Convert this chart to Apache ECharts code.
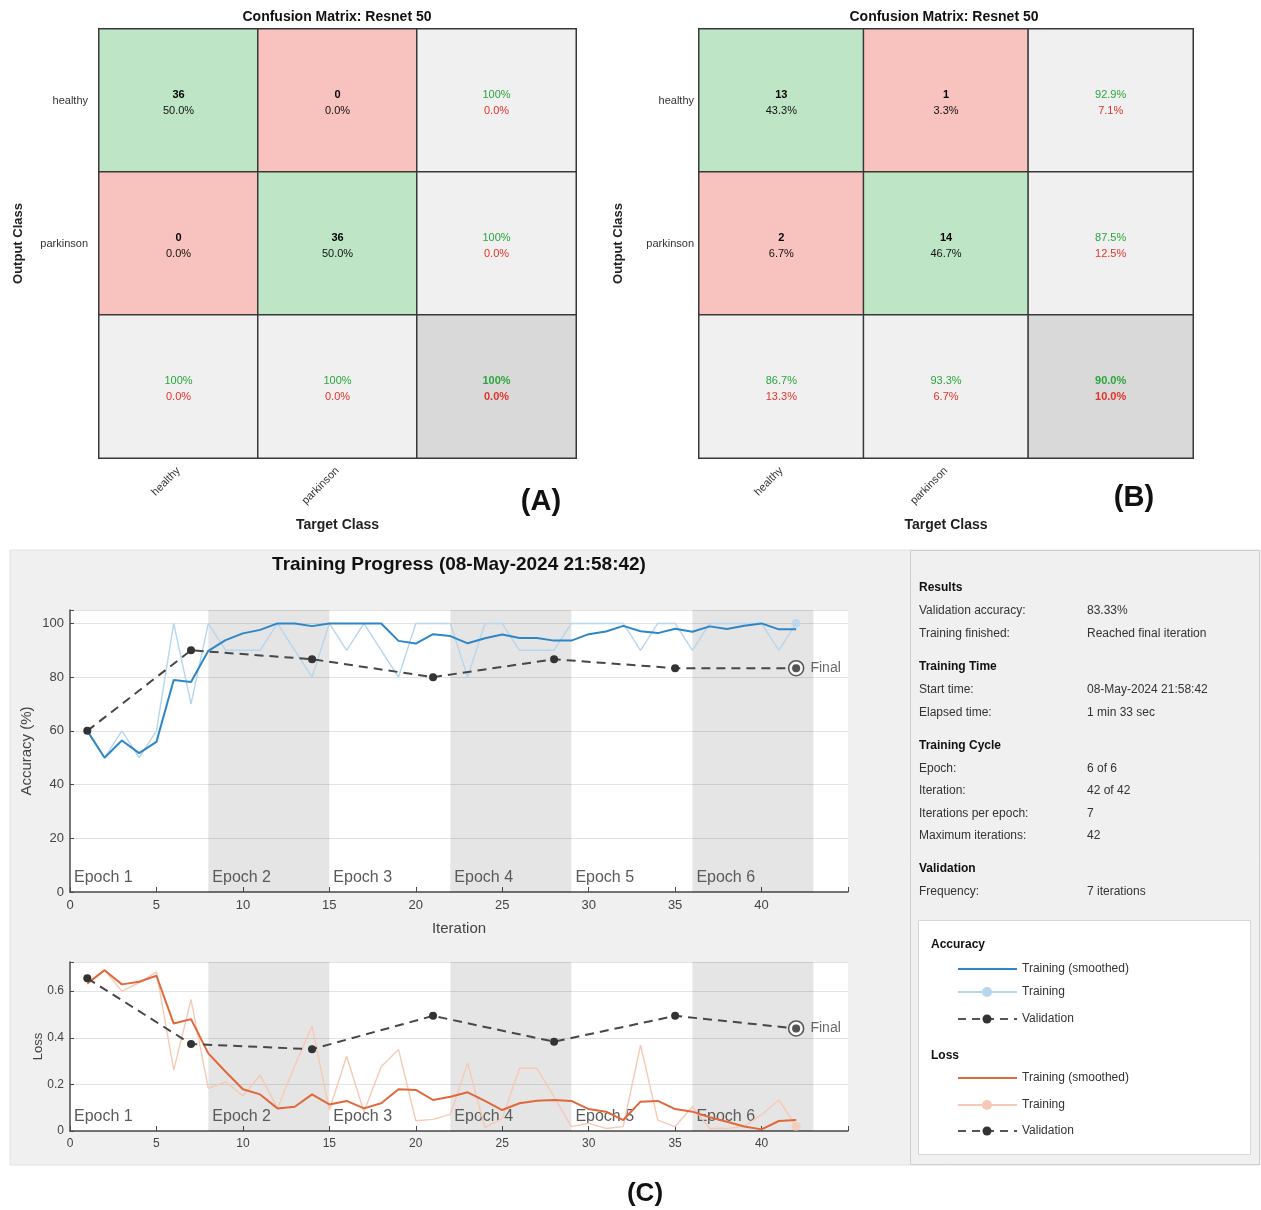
<!DOCTYPE html>
<html><head><meta charset="utf-8">
<script src="https://cdn.jsdelivr.net/npm/echarts@6/dist/echarts.min.js"></script>
<style>html,body{margin:0;padding:0;background:#fff}#c{width:1261px;height:1210px}</style>
</head><body><div id="c"></div>
<script>
// ---------- DATA ----------
const classes = ['healthy', 'parkinson'];
const cmA = [[36, 0], [0, 36]];   // rows: output class, cols: target class
const cmB = [[13, 1], [2, 14]];

const iterations = [1,2,3,4,5,6,7,8,9,10,11,12,13,14,15,16,17,18,19,20,21,22,23,24,25,26,27,28,29,30,31,32,33,34,35,36,37,38,39,40,41,42];
const accTraining = [60,50,60,50,60,100,70,100,90,90,90,100,90,80,100,90,100,90,80,100,100,100,80,100,100,90,90,90,100,100,100,100,90,100,100,90,100,100,100,100,90,100];
const accSmoothed = [60,50,56.4,51.7,55.9,78.9,78.2,89.8,93.8,96.3,97.6,100,100,99,100,100,100,100,93.5,92.5,96,95.3,92.6,94.5,95.9,94.6,94.6,93.6,93.6,96,97,99.1,97.1,96.4,98,96.9,98.9,97.9,99.1,100,97.8,97.8];
const valIterations = [1,7,14,21,28,35,42];
const accValidation = [60,90,86.67,80,86.67,83.33,83.33];

const lossTraining = [0.63,0.69,0.60,0.636,0.683,0.261,0.564,0.183,0.211,0.15,0.24,0.097,0.28,0.45,0.09,0.321,0.083,0.276,0.35,0.044,0.05,0.071,0.29,0.014,0.054,0.269,0.269,0.147,0.019,0.033,0.011,0.019,0.369,0.047,0.019,0.104,0.011,0.011,0.02,0.07,0.133,0.02];
const lossSmoothed = [0.633,0.69,0.629,0.64,0.666,0.461,0.48,0.333,0.254,0.179,0.157,0.097,0.104,0.157,0.114,0.129,0.097,0.119,0.179,0.176,0.133,0.147,0.166,0.129,0.09,0.119,0.13,0.133,0.129,0.094,0.083,0.047,0.126,0.129,0.094,0.083,0.059,0.04,0.019,0.007,0.043,0.047];
const lossValidation = [0.655,0.373,0.351,0.494,0.383,0.494,0.44];

const epochNames = ['Epoch 1','Epoch 2','Epoch 3','Epoch 4','Epoch 5','Epoch 6'];
const epochBounds = [0, 8, 15, 22, 29, 36, 43];

const accTickLabels = [0,20,40,60,80,100];
const lossTickLabels = [0,0.2,0.4,0.6];
const iterTickLabels = [0,5,10,15,20,25,30,35,40];

const infoRows = [
  ['Results', ''],
  ['Validation accuracy:', '83.33%'],
  ['Training finished:', 'Reached final iteration'],
  ['Training Time', ''],
  ['Start time:', '08-May-2024 21:58:42'],
  ['Elapsed time:', '1 min 33 sec'],
  ['Training Cycle', ''],
  ['Epoch:', '6 of 6'],
  ['Iteration:', '42 of 42'],
  ['Iterations per epoch:', '7'],
  ['Maximum iterations:', '42'],
  ['Validation', ''],
  ['Frequency:', '7 iterations']
];

// ---------- STYLE ----------
const FONT = '"Liberation Sans", Arial, sans-serif';
const C_GREEN_CELL = '#bee6c6', C_RED_CELL = '#f8c2be', C_GRAY_CELL = '#f0f0f0', C_CORNER = '#d9d9d9';
const C_GT = '#2aa63c', C_RT = '#e5332b';
const C_ACC = '#2e86c8', C_ACC_L = '#b6d6ed', C_LOSS = '#e0683a', C_LOSS_L = '#f6c9b5', C_VAL = '#474747';

function pct(x) {
  const v = x * 100;
  if (Math.abs(v - 100) < 1e-9) return '100%';
  return v.toFixed(1) + '%';
}
function buildCM(cm) {
  const total = cm[0][0] + cm[0][1] + cm[1][0] + cm[1][1];
  const cells = [];
  for (let r = 0; r < 2; r++) for (let c = 0; c < 2; c++) {
    cells.push({ value: [c, r, cm[r][c]], itemStyle: { color: r === c ? C_GREEN_CELL : C_RED_CELL },
      txt: '{b|' + cm[r][c] + '}\n{p|' + pct(cm[r][c] / total) + '}' });
  }
  for (let r = 0; r < 2; r++) {
    const p = cm[r][r] / (cm[r][0] + cm[r][1]);
    cells.push({ value: [2, r, p], itemStyle: { color: C_GRAY_CELL }, txt: '{g|' + pct(p) + '}\n{r|' + pct(1 - p) + '}' });
  }
  for (let c = 0; c < 2; c++) {
    const p = cm[c][c] / (cm[0][c] + cm[1][c]);
    cells.push({ value: [c, 2, p], itemStyle: { color: C_GRAY_CELL }, txt: '{g|' + pct(p) + '}\n{r|' + pct(1 - p) + '}' });
  }
  const acc = (cm[0][0] + cm[1][1]) / total;
  cells.push({ value: [2, 2, acc], itemStyle: { color: C_CORNER }, txt: '{gb|' + pct(acc) + '}\n{rb|' + pct(1 - acc) + '}' });
  return cells;
}
const richCM = {
  b: { fontFamily: FONT, fontSize: 11, fontWeight: 'bold', color: '#000', lineHeight: 16 },
  p: { fontFamily: FONT, fontSize: 11, color: '#111', lineHeight: 16 },
  g: { fontFamily: FONT, fontSize: 11, color: C_GT, lineHeight: 16 },
  r: { fontFamily: FONT, fontSize: 11, color: C_RT, lineHeight: 16 },
  gb: { fontFamily: FONT, fontSize: 11, fontWeight: 'bold', color: C_GT, lineHeight: 16 },
  rb: { fontFamily: FONT, fontSize: 11, fontWeight: 'bold', color: C_RT, lineHeight: 16 }
};

function pairs(xs, ys) { return xs.map((x, i) => [x, ys[i]]); }

function epochAreas() {
  const areas = [];
  for (let e = 0; e < epochNames.length; e++) {
    areas.push([
      { xAxis: epochBounds[e], name: epochNames[e],
        itemStyle: { color: e % 2 === 1 ? 'rgba(0,0,0,0.10)' : 'rgba(0,0,0,0)' } },
      { xAxis: epochBounds[e + 1] }
    ]);
  }
  return areas;
}

function lineAxisX(gi, showName, fs) {
  return {
    type: 'value', gridIndex: gi, min: 0, max: 45, interval: 5,
    name: showName ? 'Iteration' : '', nameLocation: 'middle', nameGap: 29,
    nameTextStyle: { fontFamily: FONT, fontSize: 15, color: '#444' },
    axisLine: { show: true, onZero: false, lineStyle: { color: '#4a4a4a', width: 1.5 } },
    axisTick: { show: true, inside: true, length: 5, lineStyle: { color: '#4a4a4a' } },
    axisLabel: { fontFamily: FONT, fontSize: fs, color: '#444', margin: 7,
      formatter: v => iterTickLabels.indexOf(v) >= 0 ? String(v) : '' },
    splitLine: { show: false }
  };
}

function cmXAxis(gi) {
  return { type: 'category', gridIndex: gi, data: classes.concat(['']), name: 'Target Class', nameLocation: 'middle', nameGap: 60,
    nameTextStyle: { fontFamily: FONT, fontSize: 14, fontWeight: 'bold', color: '#222' },
    axisLine: { show: false }, axisTick: { show: false }, splitLine: { show: false },
    axisLabel: { rotate: 45, fontFamily: FONT, fontSize: 11, color: '#333', margin: 11 } };
}
function cmYAxis(gi, margin) {
  return { type: 'category', gridIndex: gi, data: classes.concat(['']), inverse: true, name: 'Output Class', nameLocation: 'middle', nameGap: 74,
    nameTextStyle: { fontFamily: FONT, fontSize: 13, fontWeight: 'bold', color: '#222' },
    axisLine: { show: false }, axisTick: { show: false }, splitLine: { show: false },
    axisLabel: { fontFamily: FONT, fontSize: 11, color: '#333', margin: margin } };
}

const option = {
  backgroundColor: '#fff',
  animation: false,
  grid: [
    { left: 70, top: 610, width: 778, height: 282, show: true, backgroundColor: '#fff', borderWidth: 0 },
    { left: 70, top: 962, width: 778, height: 169, show: true, backgroundColor: '#fff', borderWidth: 0 },
    { left: 99, top: 29, width: 477, height: 429 },
    { left: 699, top: 29, width: 494, height: 429 }
  ],
  xAxis: [ lineAxisX(0, true, 13), lineAxisX(1, false, 12), cmXAxis(2), cmXAxis(3) ],
  yAxis: [
    { type: 'value', gridIndex: 0, min: 0, max: 105, interval: 20,
      name: 'Accuracy (%)', nameLocation: 'middle', nameGap: 36, nameMoveOverlap: false,
      nameTextStyle: { fontFamily: FONT, fontSize: 15, color: '#444' },
      axisLine: { show: true, lineStyle: { color: '#4a4a4a', width: 1.5 } },
      axisTick: { show: true, inside: true, length: 4, lineStyle: { color: '#4a4a4a' } },
      axisLabel: { fontFamily: FONT, fontSize: 13, color: '#444', margin: 6,
        formatter: v => accTickLabels.indexOf(v) >= 0 ? String(v) : '' },
      splitLine: { show: true, lineStyle: { color: '#e3e3e3', width: 1 } } },
    { type: 'value', gridIndex: 1, min: 0, max: 0.725, interval: 0.2,
      name: 'Loss', nameLocation: 'middle', nameGap: 25, nameMoveOverlap: false,
      nameTextStyle: { fontFamily: FONT, fontSize: 13, color: '#444' },
      axisLine: { show: true, lineStyle: { color: '#4a4a4a', width: 1.5 } },
      axisTick: { show: true, inside: true, length: 4, lineStyle: { color: '#4a4a4a' } },
      axisLabel: { fontFamily: FONT, fontSize: 12, color: '#444', margin: 6,
        formatter: v => { const m = lossTickLabels.find(t => Math.abs(t - v) < 1e-6); return m === undefined ? '' : (m === 0 ? '0' : m.toFixed(1)); } },
      splitLine: { show: true, lineStyle: { color: '#e3e3e3', width: 1 } } },
    cmYAxis(2, 11),
    cmYAxis(3, 5)
  ],
  series: [
    // ---- accuracy ----
    { type: 'line', xAxisIndex: 0, yAxisIndex: 0, data: pairs(iterations, accTraining), showSymbol: false,
      lineStyle: { color: C_ACC_L, width: 1.4 }, itemStyle: { color: C_ACC_L }, z: 3,
      markArea: { silent: true, data: epochAreas(),
        label: { show: true, position: 'insideBottomLeft', distance: 4, fontFamily: FONT, fontSize: 16, color: '#5a5a5a', offset: [0, -2] } } },
    { type: 'line', xAxisIndex: 0, yAxisIndex: 0, data: pairs(iterations, accSmoothed), showSymbol: false,
      lineStyle: { color: C_ACC, width: 2 }, z: 4 },
    { type: 'line', xAxisIndex: 0, yAxisIndex: 0, data: pairs(valIterations, accValidation), symbol: 'circle', symbolSize: 8,
      lineStyle: { color: C_VAL, width: 2, type: [9, 6] }, itemStyle: { color: '#333' }, z: 5 },
    { type: 'scatter', xAxisIndex: 0, yAxisIndex: 0, data: [[iterations[41], accTraining[41]]], symbolSize: 9,
      itemStyle: { color: C_ACC_L }, z: 4 },
    { type: 'scatter', xAxisIndex: 0, yAxisIndex: 0, data: [[valIterations[6], accValidation[6]]], symbolSize: 15,
      itemStyle: { color: '#fff', borderColor: '#333', borderWidth: 1.6 }, z: 6,
      label: { show: true, position: 'right', distance: 6, formatter: 'Final', fontFamily: FONT, fontSize: 14, color: '#444' } },
    { type: 'scatter', xAxisIndex: 0, yAxisIndex: 0, data: [[valIterations[6], accValidation[6]]], symbolSize: 8,
      itemStyle: { color: '#333' }, z: 7 },
    // ---- loss ----
    { type: 'line', xAxisIndex: 1, yAxisIndex: 1, data: pairs(iterations, lossTraining), showSymbol: false,
      lineStyle: { color: C_LOSS_L, width: 1.4 }, z: 3,
      markArea: { silent: true, data: epochAreas(),
        label: { show: true, position: 'insideBottomLeft', distance: 4, fontFamily: FONT, fontSize: 16, color: '#5a5a5a', offset: [0, -2] } } },
    { type: 'line', xAxisIndex: 1, yAxisIndex: 1, data: pairs(iterations, lossSmoothed), showSymbol: false,
      lineStyle: { color: C_LOSS, width: 2 }, z: 4 },
    { type: 'line', xAxisIndex: 1, yAxisIndex: 1, data: pairs(valIterations, lossValidation), symbol: 'circle', symbolSize: 8,
      lineStyle: { color: C_VAL, width: 2, type: [9, 6] }, itemStyle: { color: '#333' }, z: 5 },
    { type: 'scatter', xAxisIndex: 1, yAxisIndex: 1, data: [[iterations[41], lossTraining[41]]], symbolSize: 9,
      itemStyle: { color: C_LOSS_L }, z: 4 },
    { type: 'scatter', xAxisIndex: 1, yAxisIndex: 1, data: [[valIterations[6], lossValidation[6]]], symbolSize: 15,
      itemStyle: { color: '#fff', borderColor: '#333', borderWidth: 1.6 }, z: 6,
      label: { show: true, position: 'right', distance: 6, formatter: 'Final', fontFamily: FONT, fontSize: 14, color: '#444' } },
    { type: 'scatter', xAxisIndex: 1, yAxisIndex: 1, data: [[valIterations[6], lossValidation[6]]], symbolSize: 8,
      itemStyle: { color: '#333' }, z: 7 },
    // ---- confusion matrices ----
    { type: 'heatmap', xAxisIndex: 2, yAxisIndex: 2, data: buildCM(cmA),
      itemStyle: { borderColor: '#383838', borderWidth: 1.5 }, emphasis: { disabled: true },
      label: { show: true, formatter: p => p.data.txt, rich: richCM, offset: [0, 2] } },
    { type: 'heatmap', xAxisIndex: 3, yAxisIndex: 3, data: buildCM(cmB),
      itemStyle: { borderColor: '#383838', borderWidth: 1.5 }, emphasis: { disabled: true },
      label: { show: true, formatter: p => p.data.txt, rich: richCM, offset: [0, 2] } }
  ],
  graphic: []
};

// ---------- free text / panels ----------
const G = option.graphic;
function txt(x, y, t, size, weight, color, align) {
  G.push({ type: 'text', x: x, y: y, z: 50, silent: true,
    style: { text: t, fontFamily: FONT, fontSize: size, fontWeight: weight || 'normal', fill: color || '#222',
      textAlign: align || 'left', align: align || 'left', textVerticalAlign: 'middle', verticalAlign: 'middle' } });
}
G.push({ type: 'rect', z: -100, silent: true, shape: { x: 10, y: 550, width: 1250, height: 615 }, style: { fill: '#f0f0f0', stroke: '#e2e2e2', lineWidth: 1 } });
G.push({ type: 'rect', z: -99, silent: true, shape: { x: 910.5, y: 550.5, width: 349, height: 614 }, style: { fill: '#f0f0f0', stroke: '#cfcfcf', lineWidth: 1 } });
G.push({ type: 'rect', z: -98, silent: true, shape: { x: 918.5, y: 920.5, width: 332, height: 234 }, style: { fill: '#ffffff', stroke: '#d6d6d6', lineWidth: 1 } });

txt(337, 17, 'Confusion Matrix: Resnet 50', 14, 'bold', '#111', 'center');
txt(944, 17, 'Confusion Matrix: Resnet 50', 14, 'bold', '#111', 'center');
txt(541, 502, '(A)', 29, 'bold', '#111', 'center');
txt(1134, 498, '(B)', 29, 'bold', '#111', 'center');
txt(645, 1194, '(C)', 26, 'bold', '#111', 'center');
txt(459, 565, 'Training Progress (08-May-2024 21:58:42)', 19, 'bold', '#111', 'center');

const infoY = [588, 611, 634, 667, 690, 713, 746, 769, 791, 814, 836, 869, 892];
infoRows.forEach((r, i) => {
  if (r[1] === '') txt(919, infoY[i], r[0], 12, 'bold', '#111');
  else { txt(919, infoY[i], r[0], 12, 'normal', '#333'); txt(1087, infoY[i], r[1], 12, 'normal', '#333'); }
});

// legend box
txt(931, 945, 'Accuracy', 12, 'bold', '#111');
txt(931, 1056, 'Loss', 12, 'bold', '#111');
function legLine(y, color, w, dashed, dot, dotColor, dotR, label) {
  G.push({ type: 'line', z: 40, silent: true, shape: { x1: 958, y1: y, x2: 1017, y2: y },
    style: { stroke: color, lineWidth: w, lineDash: dashed ? [8, 6] : null } });
  if (dot) G.push({ type: 'circle', z: 41, silent: true, shape: { cx: 987, cy: y, r: dotR }, style: { fill: dotColor } });
  txt(1022, y, label, 12, 'normal', '#333');
}
legLine(969, C_ACC, 2, false, false, null, 0, 'Training (smoothed)');
legLine(992, C_ACC_L, 2, false, true, C_ACC_L, 5, 'Training');
legLine(1019, '#555', 2, true, true, '#333', 4.5, 'Validation');
legLine(1078, C_LOSS, 2, false, false, null, 0, 'Training (smoothed)');
legLine(1105, C_LOSS_L, 2, false, true, C_LOSS_L, 5, 'Training');
legLine(1131, '#555', 2, true, true, '#333', 4.5, 'Validation');

const chart = echarts.init(document.getElementById('c'), null, { renderer: 'canvas' });
chart.setOption(option);
</script>
</body></html>
